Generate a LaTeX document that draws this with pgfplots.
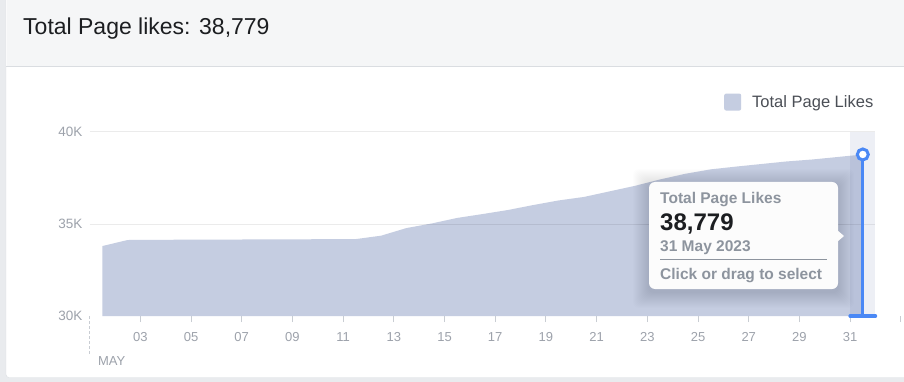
\documentclass[border=0pt]{standalone}
\usepackage{pgfplots}
\pgfplotsset{compat=1.18}
\usepackage{fontspec}
\setmainfont{Liberation Sans}
\definecolor{pagebg}{HTML}{E9EBEE}
\definecolor{cardborder}{HTML}{DADDE1}
\definecolor{headerbg}{HTML}{F5F6F7}
\definecolor{titlecol}{HTML}{1C1E21}
\definecolor{ticklab}{HTML}{9DA2AB}
\definecolor{tickline}{HTML}{C9CDD3}
\definecolor{areacol}{HTML}{C5CDE1}
\definecolor{legtext}{HTML}{4B4F56}
\definecolor{tipgray}{HTML}{8D949E}
\definecolor{bandcol}{RGB}{85,105,165}
\definecolor{selblue}{HTML}{4A88F5}
\begin{document}
\begin{tikzpicture}[x=1pt,y=1pt]
\path[use as bounding box] (0,0) rectangle (904,-382);
\fill[pagebg] (0,0) rectangle (904,-382);
\fill[white, draw=cardborder, rounded corners=3pt] (6,5) rectangle (912,-377.5);
\fill[headerbg] (6.5,0) rectangle (904,-66);
\draw[cardborder] (6,-66.5) -- (904,-66.5);
\node[anchor=base west, inner sep=0pt, text=titlecol, font=\fontsize{23}{23}\selectfont] at (23,-35) {Total Page likes: 38,779};

\begin{axis}[
  at={(89.6pt,-316pt)}, anchor=south west,
  scale only axis, width=816.3pt, height=184pt,
  xmin=1, xmax=33.2, ymin=30000, ymax=40000,
  clip=false,
  scaled y ticks=false,
  axis line style={draw=none},
  tick align=outside, major tick length=6pt,
  xtick={3,5,...,33},
  xticklabels={03,05,07,09,11,13,15,17,19,21,23,25,27,29,31,{}},
  x tick style={draw=tickline, line width=1pt},
  ytick={30000,35000,40000},
  yticklabels={30K,35K,40K},
  y tick style={draw=none},
  xtick pos=bottom, ytick pos=left,
  xticklabel style={anchor=base, inner sep=0pt, yshift=-19.6pt, text=ticklab, font=\fontsize{13}{13}\selectfont},
  yticklabel style={anchor=base east, inner sep=0pt, yshift=-4.8pt, xshift=-0.9pt, text=ticklab, font=\fontsize{13.5}{13.5}\selectfont},
  legend style={at={(axis cs:32,40000)}, anchor=south east, yshift=21pt, draw=none, fill=none, inner sep=0pt,
    font=\fontsize{16.5}{16.5}\selectfont, text=legtext,
    /tikz/every odd column/.append style={column sep=9pt}},
  legend image code/.code={\fill[areacol, rounded corners=2pt] (0pt,-8.5pt) rectangle (17pt,8.5pt);},
  legend cell align=left,
]
% area
\addplot[fill=areacol, draw=none] coordinates {
(1.5,30000)
(1.5,33800) (2.5,34130) (3.5,34140) (4.5,34145) (5.5,34150) (6.5,34155) (7.5,34160)
(8.5,34165) (9.5,34170) (10.5,34175) (11.5,34180) (12.5,34365) (13.5,34780)
(14.5,35030) (15.5,35330) (16.5,35540) (17.5,35760) (18.5,36030) (19.5,36280)
(20.5,36470) (21.5,36770) (22.5,37070) (23.5,37420) (24.5,37730) (25.5,37970)
(26.5,38120) (27.5,38260) (28.5,38400) (29.5,38505) (30.5,38640) (31.5,38779)
(31.5,30000)};
\addlegendentry{Total Page Likes}
% grid lines
\addplot[black, opacity=0.08, line width=1pt, forget plot] coordinates {(1,35000) (32,35000)};
\addplot[black, opacity=0.08, line width=1pt, forget plot] coordinates {(1,40000) (32,40000)};
% month marker
\addplot[tickline, line width=1pt, dashed, dash pattern=on 3pt off 2pt, forget plot] coordinates {(1,30000) (1,27880)};
% highlighted band
\addplot[fill=bandcol, fill opacity=0.1, draw=none, forget plot] coordinates {(31,30000) (31,40000) (32,40000) (32,30000)};
% selection
\addplot[selblue, line width=3.5pt, line cap=round, forget plot] coordinates {(31.0,30000) (32.0,30000)};
\addplot[selblue, line width=3pt, forget plot] coordinates {(31.5,30000) (31.5,38779)};
\addplot[only marks, mark=*, mark size=5.5pt, mark options={fill=white, draw=selblue, line width=3pt}, forget plot] coordinates {(31.5,38779)};
\node[anchor=base west, inner sep=0pt, text=ticklab, font=\fontsize{13}{13}\selectfont] at (axis cs:1.33,27310) {MAY};
\end{axis}

% tooltip soft shadow
\foreach \s in {1,2,...,16}{
  \fill[black, opacity=0.009, rounded corners=6pt] (649-\s,-182+\s-3) rectangle (838+\s,-289-\s-3);
}
\path[fill=white!97!tipgray, rounded corners=6pt] (649,-182) rectangle (838,-289);
\fill[white!97!tipgray] (837,-230) -- (844,-236) -- (837,-242) -- cycle;
\node[anchor=base west, inner sep=0pt, text=tipgray, font=\bfseries\fontsize{15.5}{15.5}\selectfont] at (660,-203.3) {Total Page Likes};
\node[anchor=base west, inner sep=0pt, text=titlecol, font=\bfseries\fontsize{24}{24}\selectfont] at (660,-230) {38,779};
\node[anchor=base west, inner sep=0pt, text=tipgray, font=\bfseries\fontsize{15.5}{15.5}\selectfont] at (660,-251) {31 May 2023};
\draw[tipgray, line width=1pt] (660,-259.3) -- (827,-259.3);
\node[anchor=base west, inner sep=0pt, text=tipgray, font=\bfseries\fontsize{15.5}{15.5}\selectfont] at (660,-279) {Click or drag to select};
\end{tikzpicture}
\end{document}
